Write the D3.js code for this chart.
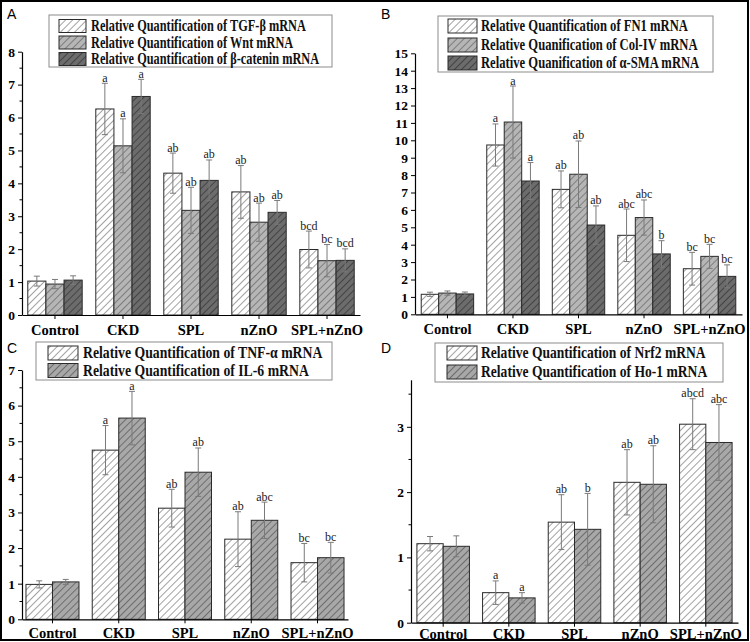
<!DOCTYPE html>
<html><head><meta charset="utf-8">
<script src="https://cdn.jsdelivr.net/npm/d3@7"></script>
<style>body{margin:0;background:#fff}svg{display:block}</style>
</head><body>
<svg id="chart" width="750" height="642"></svg>
<script>
// ---------------- DATA ----------------
const categories = ["Control", "CKD", "SPL", "nZnO", "SPL+nZnO"];

// Panel A
const aSeries = ["Relative Quantification of TGF-β mRNA", "Relative Quantification of Wnt mRNA", "Relative Quantification of β-catenin mRNA"];
const aTGF = [1.03, 6.26, 4.31, 3.74, 1.99];
const aTGFErr = [0.15, 0.78, 0.61, 0.80, 0.56];
const aWnt = [0.94, 5.14, 3.18, 2.82, 1.65];
const aWntErr = [0.14, 0.82, 0.70, 0.58, 0.49];
const aCat = [1.06, 6.64, 4.09, 3.12, 1.66];
const aCatErr = [0.13, 0.52, 0.62, 0.36, 0.35];
const aSig = [["", "a", "ab", "ab", "bcd"], ["", "a", "ab", "ab", "bc"], ["", "a", "ab", "ab", "bcd"]];
const aTicks = [0, 1, 2, 3, 4, 5, 6, 7, 8];

// Panel B
const bSeries = ["Relative Quantification of FN1 mRNA", "Relative Quanification of Col-IV mRNA", "Relative Quanification of α-SMA mRNA"];
const bFN1 = [1.15, 9.73, 7.18, 4.54, 2.62];
const bFN1Err = [0.12, 1.21, 1.06, 1.51, 0.94];
const bCol = [1.22, 11.05, 8.05, 5.56, 3.33];
const bColErr = [0.12, 2.07, 1.91, 1.01, 0.69];
const bSMA = [1.17, 7.66, 5.13, 3.47, 2.18];
const bSMAErr = [0.11, 1.06, 1.10, 0.76, 0.66];
const bSig = [["", "a", "ab", "abc", "bc"], ["", "a", "ab", "abc", "bc"], ["", "a", "ab", "b", "bc"]];
const bTicks = [0, 1, 2, 3, 4, 5, 6, 7, 8, 9, 10, 11, 12, 13, 14, 15];

// Panel C
const cSeries = ["Relative Quantification of TNF-α mRNA", "Relative Quantification of IL-6 mRNA"];
const cTNF = [0.98, 4.75, 3.12, 2.25, 1.59];
const cTNFErr = [0.10, 0.69, 0.53, 0.77, 0.54];
const cIL6 = [1.05, 5.65, 4.13, 2.78, 1.73];
const cIL6Err = [0.07, 0.75, 0.68, 0.51, 0.43];
const cSig = [["", "a", "ab", "ab", "bc"], ["", "a", "ab", "abc", "bc"]];
const cTicks = [0, 1, 2, 3, 4, 5, 6, 7];

// Panel D
const dSeries = ["Relative Quantification of Nrf2 mRNA", "Relative Quantification of Ho-1 mRNA"];
const dNrf2 = [1.21, 0.46, 1.54, 2.15, 3.04];
const dNrf2Err = [0.11, 0.18, 0.42, 0.50, 0.39];
const dHo1 = [1.17, 0.38, 1.43, 2.12, 2.76];
const dHo1Err = [0.16, 0.08, 0.55, 0.59, 0.58];
const dSig = [["", "a", "ab", "ab", "abcd"], ["", "a", "b", "ab", "abc"]];
const dTicks = [0, 1, 2, 3];

// ---------------- LAYOUT / STYLE ----------------
const svg = d3.select("#chart");
const defs = svg.append("defs");
const SERIF = "'Liberation Serif','Times New Roman',serif";

function hatch(id, fill, stroke) {
  const p = defs.append("pattern").attr("id", id)
    .attr("patternUnits", "userSpaceOnUse").attr("width", 5).attr("height", 5)
    .attr("patternTransform", "rotate(45)");
  p.append("rect").attr("width", 5).attr("height", 5).attr("fill", fill);
  p.append("line").attr("x1", 0.5).attr("y1", 0).attr("x2", 0.5).attr("y2", 5)
    .attr("stroke", stroke).attr("stroke-width", 0.8);
}
hatch("hWhite", "#ffffff", "#8a8a8a");
hatch("hLight", "#b6b6b6", "#6e6e6e");
hatch("hLight2", "#a8a8a8", "#5e5e5e");
hatch("hDark", "#6c6c6c", "#3a3a3a");

const panels = [
  {
    letter: "A", letterPos: [7, 19],
    series: aSeries, values: [aTGF, aWnt, aCat], errors: [aTGFErr, aWntErr, aCatErr], sig: aSig,
    fills: ["url(#hWhite)", "url(#hLight)", "url(#hDark)"],
    ticks: aTicks, yMax: 8, minor: true,
    xRange: [22, 360], padOuter: 0.085, yRange: [315, 51.7], xLabelY: 335,
    legend: {x: 49, y: 15, w: 283, h: 52, rows: [26, 42.5, 59], sw: [59, 27, 13], tx: 91, sx: 0.78}
  },
  {
    letter: "B", letterPos: [381, 19],
    series: bSeries, values: [bFN1, bCol, bSMA], errors: [bFN1Err, bColErr, bSMAErr], sig: bSig,
    fills: ["url(#hWhite)", "url(#hLight)", "url(#hDark)"],
    ticks: bTicks, yMax: 15, minor: false,
    xRange: [415, 742], padOuter: 0.095, yRange: [314.3, 53.3], xLabelY: 334,
    legend: {x: 438, y: 16, w: 275, h: 56, rows: [26, 45, 63], sw: [448, 29, 14], tx: 481, sx: 0.8}
  },
  {
    letter: "C", letterPos: [7, 353],
    series: cSeries, values: [cTNF, cIL6], errors: [cTNFErr, cIL6Err], sig: cSig,
    fills: ["url(#hWhite)", "url(#hLight2)"],
    ticks: cTicks, yMax: 7, minor: true,
    xRange: [22, 348], padOuter: 0.06, yRange: [619.3, 370], xLabelY: 638,
    legend: {x: 36, y: 342, w: 296, h: 38, rows: [353, 370.5], sw: [48, 30, 14], tx: 83, sx: 0.87}
  },
  {
    letter: "D", letterPos: [381, 353],
    series: dSeries, values: [dNrf2, dHo1], errors: [dNrf2Err, dHo1Err], sig: dSig,
    fills: ["url(#hWhite)", "url(#hLight2)"],
    ticks: dTicks, yMax: 3.72, minor: true,
    xRange: [411, 738], padOuter: 0.09, yRange: [622.7, 379.8], xLabelY: 639,
    legend: {x: 435, y: 343, w: 288, h: 39, rows: [353, 372], sw: [447, 30, 14], tx: 481, sx: 0.86}
  }
];

function drawPanel(p) {
  const g = svg.append("g");
  const x0 = d3.scaleBand().domain(categories).range(p.xRange)
    .paddingInner(0.2).paddingOuter(p.padOuter);
  const x1 = d3.scaleBand().domain(d3.range(p.series.length)).range([0, x0.bandwidth()]);
  const y = d3.scaleLinear().domain([0, p.yMax]).range(p.yRange);

  // bars
  p.series.forEach((s, si) => {
    const rows = categories.map((c, ci) => ({c, v: p.values[si][ci], e: p.errors[si][ci], l: p.sig[si][ci]}));
    const sg = g.append("g");
    sg.selectAll("rect").data(rows).join("rect")
      .attr("x", d => x0(d.c) + x1(si))
      .attr("y", d => y(d.v))
      .attr("width", x1.bandwidth())
      .attr("height", d => y(0) - y(d.v))
      .attr("fill", p.fills[si])
      .attr("stroke", "#2a2a2a").attr("stroke-width", 1);
    const cx = d => x0(d.c) + x1(si) + x1.bandwidth() / 2;
    // error bars
    const eg = sg.append("g").attr("stroke", "#7a7a7a").attr("stroke-width", 1);
    eg.selectAll("line.v").data(rows).join("line").attr("class", "v")
      .attr("x1", cx).attr("x2", cx)
      .attr("y1", d => y(d.v + d.e)).attr("y2", d => y(Math.max(0, d.v - d.e)));
    eg.selectAll("line.t").data(rows).join("line").attr("class", "t")
      .attr("x1", d => cx(d) - 3).attr("x2", d => cx(d) + 3)
      .attr("y1", d => y(d.v + d.e)).attr("y2", d => y(d.v + d.e));
    eg.selectAll("line.b").data(rows).join("line").attr("class", "b")
      .attr("x1", d => cx(d) - 3).attr("x2", d => cx(d) + 3)
      .attr("y1", d => y(Math.max(0, d.v - d.e))).attr("y2", d => y(Math.max(0, d.v - d.e)));
    // significance letters
    sg.selectAll("text").data(rows.filter(d => d.l)).join("text")
      .attr("x", cx).attr("y", d => y(d.v + d.e) - 1.5)
      .attr("text-anchor", "middle")
      .attr("font-family", SERIF).attr("font-size", 12).attr("fill", "#222")
      .text(d => d.l);
  });

  // y axis
  const ax = g.append("g").attr("transform", `translate(${p.xRange[0]},0)`)
    .call(d3.axisLeft(y).tickValues(p.ticks).tickSize(4).tickSizeOuter(0).tickPadding(3).tickFormat(d3.format("d")));
  ax.selectAll("text").attr("font-family", SERIF).attr("font-weight", "bold").attr("font-size", 13.5).attr("fill", "#000");
  ax.select(".domain").attr("stroke", "#000").attr("stroke-width", 1.2);
  if (p.minor) {
    const minorVals = d3.range(0.5, p.yMax, 1);
    g.append("g").selectAll("line").data(minorVals).join("line")
      .attr("x1", p.xRange[0] - 2.5).attr("x2", p.xRange[0])
      .attr("y1", d => y(d)).attr("y2", d => y(d)).attr("stroke", "#000");
  }

  // x axis
  const bx = g.append("g").attr("transform", `translate(0,${p.yRange[0]})`)
    .call(d3.axisBottom(x0).tickSize(4).tickSizeOuter(0).tickPadding(8));
  bx.select(".domain").attr("stroke", "#000").attr("stroke-width", 1.2);
  bx.selectAll("text").attr("font-family", SERIF).attr("font-weight", "bold").attr("font-size", 14.5)
    .attr("fill", "#000").attr("dy", null).attr("y", p.xLabelY - p.yRange[0]);

  // legend
  const L = p.legend;
  const lg = g.append("g");
  lg.append("rect").attr("x", L.x).attr("y", L.y).attr("width", L.w).attr("height", L.h)
    .attr("fill", "#fff").attr("stroke", "#8c8c8c").attr("stroke-width", 1);
  p.series.forEach((s, si) => {
    const ry = L.rows[si];
    lg.append("rect").attr("x", L.sw[0]).attr("y", ry - L.sw[2] / 2)
      .attr("width", L.sw[1]).attr("height", L.sw[2])
      .attr("fill", p.fills[si]).attr("stroke", "#2a2a2a").attr("stroke-width", 1);
    lg.append("text").attr("transform", `translate(${L.tx},${ry}) scale(${L.sx},1)`)
      .attr("dy", "0.33em")
      .attr("font-family", SERIF).attr("font-weight", "bold").attr("font-size", 15.8).attr("fill", "#111")
      .text(s);
  });

  // panel letter
  g.append("text").attr("x", p.letterPos[0]).attr("y", p.letterPos[1])
    .attr("font-family", "'Liberation Sans',Arial,sans-serif").attr("font-size", 14).attr("fill", "#000")
    .text(p.letter);
}

panels.forEach(drawPanel);

// outer frame
svg.append("rect").attr("x", 1).attr("y", 1).attr("width", 747).attr("height", 639)
  .attr("fill", "none").attr("stroke", "#000").attr("stroke-width", 2);
</script>
</body></html>
